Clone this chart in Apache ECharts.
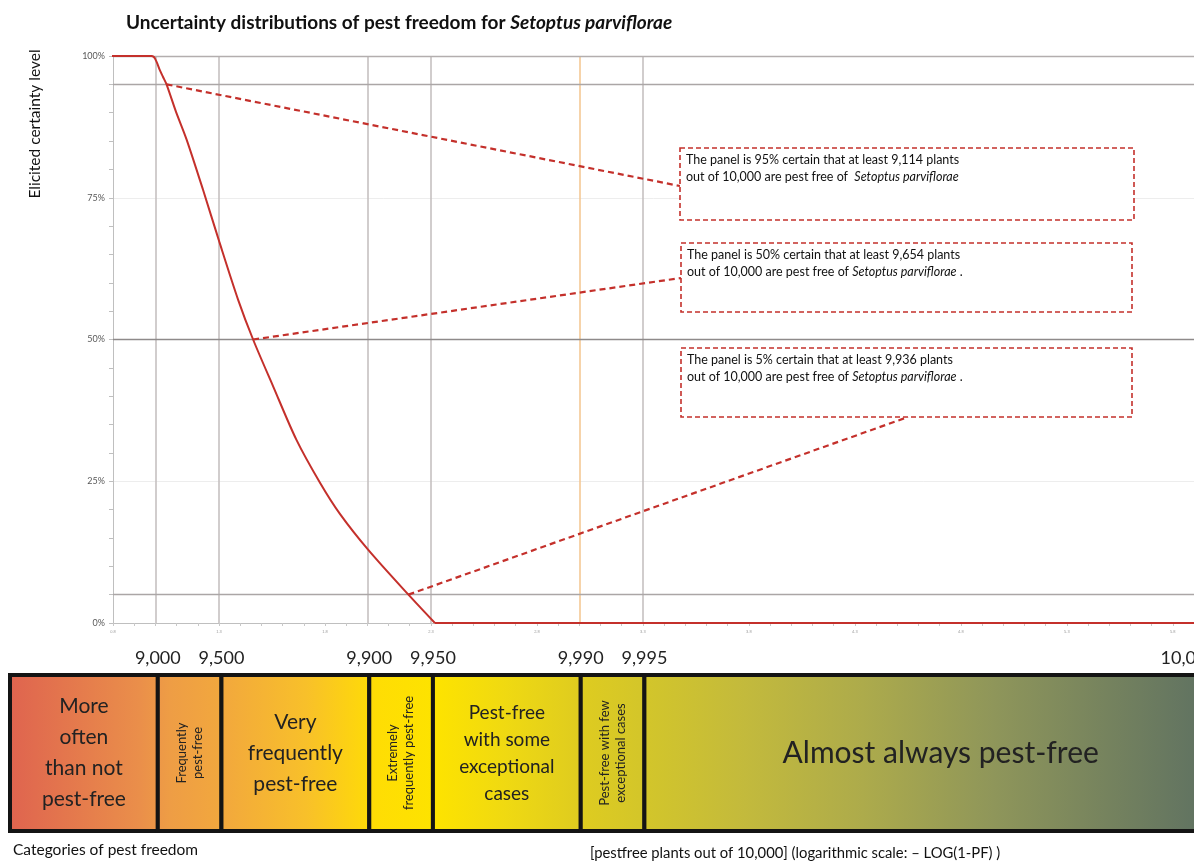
<!DOCTYPE html>
<html><head><meta charset="utf-8">
<script src="https://cdn.jsdelivr.net/npm/echarts@6/dist/echarts.min.js"></script>
<style>html,body{margin:0;padding:0;background:#fff}#c{width:1194px;height:866px}</style>
</head><body><div id="c"></div>
<script>
// ---------------- data ----------------
// pest-free plants out of 10,000 and elicited certainty (%) along the curve
const curvePlants    = [5000, 8955, 8985, 9000, 9020, 9045, 9080, 9114, 9200, 9287, 9404, 9500, 9593, 9654, 9722, 9784, 9833, 9865, 9901, 9936, 9952, 9999.9999];
const curveCertainty = [100,  100,  99.8, 99.4, 98.7, 97.6, 96.3, 95,   90.2, 85.3, 76.4, 67.3, 57.0, 50,   41.7, 32.3, 24.7, 19.3, 12.9, 5,    0,    0];
// elicited quantiles
const quantileLevels = [95, 50, 5];
const quantilePlants = [9114, 9654, 9936];
// reference gridlines (pest-free plants) and their tick labels
const gridPlants = [9000, 9500, 9900, 9950, 9990, 9995];
const tickPlants = [9000, 9500, 9900, 9950, 9990, 9995, 10000];
const tickLabels = ['9,000', '9,500', '9,900', '9,950', '9,990', '9,995', '10,000'];
const yTickValues = [0, 25, 50, 75, 100];
const yTickLabels = ['0%', '25%', '50%', '75%', '100%'];
// categories of pest freedom
const categoryNames = [
  'More\noften\nthan not\npest-free',
  'Frequently\npest-free',
  'Very\nfrequently\npest-free',
  'Extremely\nfrequently pest-free',
  'Pest-free\nwith some\nexceptional\ncases',
  'Pest-free with few\nexceptional cases',
  'Almost always pest-free'
];
const categoryBounds = [5000, 9000, 9500, 9900, 9950, 9990, 9995, 10000];
const species = 'Setoptus parviflorae';

// ---------------- scale: -LOG10(1 - PF) ----------------
const X_MIN = 0.8, X_MAX = 5.9, X_END_LABEL = 5.875;
function toAxis(p) { return p >= 10000 ? Infinity : -Math.log10(1 - p / 10000); }
function toAxisClamped(p) { return Math.min(toAxis(p), X_MAX); }
const tickPos = tickPlants.map(p => p >= 10000 ? X_END_LABEL : toAxis(p));

const FONT = 'Lato, "Noto Sans", sans-serif';
const RED = '#C4302B';

const curveData = curvePlants.map((p, i) => [toAxis(p), curveCertainty[i]]);
// the curve is smooth until it reaches 0%, then runs flat (sharp corner)
const firstZero = curveCertainty.indexOf(0);
const curveFalling = curveData.slice(0, firstZero + 1);
const curveTail = curveData.slice(firstZero);
const bandData = categoryNames.map((n, i) => [toAxisClamped(categoryBounds[i]), toAxisClamped(categoryBounds[i + 1]), i]);

const minorTicks = [];
for (let k = 8; k <= 59; k++) minorTicks.push(k / 10);
const smallLabels = [];
for (let k = 0; k <= 10; k++) smallLabels.push(0.8 + 0.5 * k);

const bandStops = [
  { offset: 0.00, color: '#DF644F' },
  { offset: 0.11, color: '#EA8F4A' },
  { offset: 0.135, color: '#EE9D45' },
  { offset: 0.18, color: '#F2A83D' },
  { offset: 0.25, color: '#F8C02A' },
  { offset: 0.31, color: '#FFDD04' },
  { offset: 0.36, color: '#FDE300' },
  { offset: 0.42, color: '#EFD912' },
  { offset: 0.48, color: '#DFCC1F' },
  { offset: 0.54, color: '#D2C52B' },
  { offset: 0.62, color: '#C3BA3C' },
  { offset: 0.72, color: '#ADAB4B' },
  { offset: 0.83, color: '#8F965A' },
  { offset: 1.00, color: '#627461' }
];
const bandFont = [21, 13, 21, 13, 19, 13, 30];
const bandLine = [31, 16, 31, 16, 27, 16, 36];

const chart = echarts.init(document.getElementById('c'), null, { renderer: 'canvas' });

// annotation boxes (layout in pixels)
const boxes = [
  { x: 680, y: 148, w: 454, h: 72, ax: 680, ay: 186 },
  { x: 681, y: 243, w: 451, h: 69, ax: 681, ay: 278 },
  { x: 681, y: 348, w: 451, h: 69, ax: 908, ay: 417 }
];
const boxTexts = quantileLevels.map((lv, i) => {
  const n = quantilePlants[i].toLocaleString('en-US');
  const l1 = `{n|The panel is ${lv}% certain that at least ${n} plants}`;
  const l2 = i === 0 ? `{n|out of 10,000 are pest free of  }{i|${species}}` : `{n|out of 10,000 are pest free of }{i|${species}}{n| .}`;
  return l1 + '\n' + l2;
});

const graphics = [];
boxes.forEach((b, i) => {
  graphics.push({ type: 'rect', shape: { x: b.x, y: b.y, width: b.w, height: b.h }, style: { fill: '#fff', stroke: RED, lineWidth: 1.6, lineDash: [5, 3] }, z: 50 });
  graphics.push({ type: 'text', x: b.x + 6, y: b.y + 4, style: { text: boxTexts[i], fill: '#111', font: '12.5px ' + FONT,
    rich: { n: { fontSize: 12.5, fontFamily: FONT, fill: '#111', lineHeight: 16.6 }, i: { fontSize: 12.5, fontFamily: FONT, fontStyle: 'italic', fill: '#111', lineHeight: 16.6 } } }, z: 51 });
});
graphics.push({ type: 'text', x: 35, y: 124, rotation: Math.PI / 2, style: { text: 'Elicited certainty level', font: '15.5px ' + FONT, fill: '#111', align: 'center', verticalAlign: 'middle' } });
graphics.push({ type: 'text', x: 13, y: 850, style: { text: 'Categories of pest freedom', font: '15.5px ' + FONT, fill: '#111', verticalAlign: 'middle' } });
graphics.push({ type: 'text', x: 590, y: 853, style: { text: '[pestfree plants out of 10,000] (logarithmic scale: \u2013 LOG(1-PF) )', font: '14.8px ' + FONT, fill: '#111', verticalAlign: 'middle' } });

const option = {
  animation: false,
  backgroundColor: '#fff',
  title: {
    left: 121, top: 8,
    text: '{b|Uncertainty distributions of pest freedom for }{bi|' + species + '}',
    textStyle: { rich: {
      b: { fontFamily: FONT, fontWeight: 'bold', fontSize: 19, color: '#111' },
      bi: { fontFamily: FONT, fontWeight: 'bold', fontStyle: 'italic', fontSize: 19, color: '#111' } } }
  },
  grid: [
    { left: 113, right: 0, top: 56, bottom: 243, outerBoundsMode: 'none', containLabel: false },
    { left: 10, right: 0, top: 675, bottom: 35, outerBoundsMode: 'none', containLabel: false }
  ],
  xAxis: [
    { gridIndex: 0, type: 'value', min: X_MIN, max: X_MAX,
      axisLine: { lineStyle: { color: '#BFBFBF', width: 1 } },
      axisTick: { show: true, customValues: minorTicks, length: 3, lineStyle: { color: '#C8C8C8' } },
      axisLabel: { customValues: smallLabels, fontSize: 4, color: '#999', margin: 7, formatter: v => v.toFixed(1) },
      splitLine: { show: false } },
    { gridIndex: 1, type: 'value', position: 'top', min: toAxis(categoryBounds[0]), max: X_MAX,
      axisLine: { show: false }, axisTick: { show: false }, splitLine: { show: false },
      axisLabel: { customValues: tickPos, fontSize: 18, fontFamily: FONT, color: '#222', margin: 8,
        formatter: v => { let bi = 0, bd = 1e9; tickPos.forEach((t, i) => { const d = Math.abs(t - v); if (d < bd) { bd = d; bi = i; } }); return tickLabels[bi]; } } }
  ],
  yAxis: [
    { gridIndex: 0, type: 'value', min: 0, max: 100, interval: 25,
      axisLine: { show: true, lineStyle: { color: '#BFBFBF' } },
      axisTick: { show: true, length: 4, lineStyle: { color: '#BFBFBF' } },
      minorTick: { show: true, splitNumber: 5, length: 4, lineStyle: { color: '#BFBFBF' } },
      axisLabel: { fontSize: 9, color: '#595959', fontFamily: FONT, margin: 8,
        formatter: v => yTickLabels[yTickValues.indexOf(v)] },
      splitLine: { show: true, lineStyle: { color: '#EDEDED', width: 1 } } },
    { gridIndex: 1, type: 'value', min: 0, max: 1, show: false }
  ],
  graphic: graphics,
  series: [
    { type: 'line', xAxisIndex: 0, yAxisIndex: 0, data: [], z: 1, silent: true,
      markLine: { silent: true, symbol: 'none', label: { show: false }, animation: false,
        data: [
          ...gridPlants.map(p => ({ xAxis: toAxis(p), lineStyle: { color: p === 9990 ? '#F3C58E' : '#C2BDBD', width: 1.5, type: 'solid' } })),
          { yAxis: 100, lineStyle: { color: '#B3AEAE', width: 1.3, type: 'solid' } },
          ...quantileLevels.map(l => ({ yAxis: l, lineStyle: { color: l === 50 ? '#8E8A8A' : '#ABA6A6', width: 1.3, type: 'solid' } }))
        ] } },
    { type: 'line', xAxisIndex: 0, yAxisIndex: 0, data: curveTail, z: 5, symbol: 'none',
      smooth: false, clip: true, lineStyle: { color: RED, width: 2 } },
    { type: 'line', xAxisIndex: 0, yAxisIndex: 0, data: curveFalling, z: 5, symbol: 'none',
      smooth: 0.3, clip: true,
      lineStyle: { color: RED, width: 2 },
      markLine: { silent: true, symbol: 'none', label: { show: false }, animation: false,
        lineStyle: { color: RED, width: 2.2, type: [6, 4] },
        data: quantilePlants.map((p, i) => [ { coord: [toAxis(p), quantileLevels[i]] }, { x: boxes[i].ax, y: boxes[i].ay } ]) } },
    { type: 'custom', xAxisIndex: 1, yAxisIndex: 1, data: bandData, clip: false, silent: true, z: 2,
      renderItem: (params, api) => {
        const i = api.value(2);
        const p0 = api.coord([api.value(0), 1]);
        const p1 = api.coord([api.value(1), 0]);
        const cs = params.coordSys;
        const grad = new echarts.graphic.LinearGradient(cs.x, 0, cs.x + cs.width, 0, bandStops, true);
        // the last category runs on past the cropped right edge of the picture
        const extra = api.value(1) >= X_MAX ? 43 : 0;
        const w = p1[0] - p0[0] + extra, h = p1[1] - p0[1];
        const narrow = w < 80;
        return { type: 'group', children: [
          { type: 'rect', shape: { x: p0[0], y: p0[1], width: w, height: h }, style: { fill: grad, stroke: '#141414', lineWidth: 4 } },
          { type: 'text', x: p0[0] + w / 2, y: p0[1] + h / 2, rotation: narrow ? Math.PI / 2 : 0,
            style: { text: categoryNames[i], fontFamily: FONT, fontSize: bandFont[i], lineHeight: bandLine[i], fill: '#222', align: 'center', verticalAlign: 'middle' } }
        ] };
      } }
  ]
};
chart.setOption(option);
</script></body></html>
